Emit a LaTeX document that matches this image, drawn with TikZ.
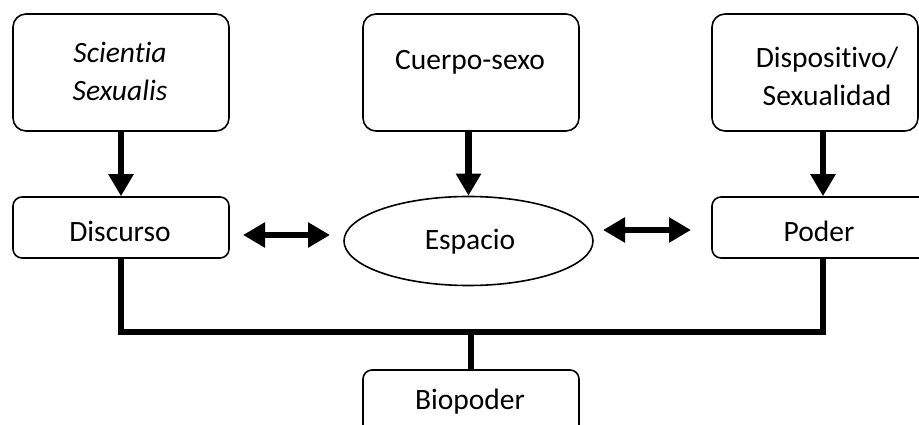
\documentclass[tikz,border=0pt]{standalone}
\usepackage{fontspec}
\setmainfont{Carlito}[Ligatures={NoCommon},RawFeature={-liga;-clig}]
\usetikzlibrary{arrows.meta,shapes.geometric,calc}
\begin{document}
\begin{tikzpicture}[x=1pt,y=-1pt,
  bigbox/.style={draw,line width=1.6pt,rounded corners=13pt,inner sep=0pt,minimum height=117pt},
  smallbox/.style={draw,line width=1.6pt,rounded corners=9pt,inner sep=0pt,minimum height=61pt},
  lbl/.style={font=\fontsize{29.5}{38}\selectfont,align=center,inner sep=0pt},
  conn/.style={line width=6.5pt},
  arr/.style={line width=6.5pt,-{Triangle[length=22pt,width=24pt]}},
  darr/.style={line width=6.5pt,{Triangle[length=22pt,width=24pt]}-{Triangle[length=22pt,width=24pt]}}]
\clip (0,0) rectangle (919,425);
\fill[white] (0,0) rectangle (919,425);
% top boxes
\node[bigbox,minimum width=216pt] (sci) at (121,72.5) {};
\node[lbl] (scit) at (120,71.5) {\itshape Scientia\\\itshape Sexualis};
\node[bigbox,minimum width=216pt] (cs) at (471,72.5) {};
\node[lbl] (cst) at (470,62) {Cuerpo-sexo};
\node[bigbox,minimum width=206pt] (dsp) at (815,72.5) {};
\node[lbl] (dspt) at (827,76) {Dispositivo/\\Sexualidad};
% middle row
\node[smallbox,minimum width=216pt] (dsc) at (121,227.5) {};
\node[lbl] (dsct) at (120,231) {Discurso};
\node[draw,ellipse,line width=1.6pt,minimum width=249pt,minimum height=89pt,inner sep=0pt] (esp) at (468.5,241) {};
\node[lbl] (espt) at (470,242) {Espacio};
\node[smallbox,minimum width=222pt] (pod) at (823,227.5) {};
\node[lbl] (podt) at (819,231) {Poder};
% bottom
\node[smallbox,minimum width=216pt,minimum height=66pt] (bio) at (471,403) {};
\node[lbl] (biot) at (470,402) {Biopoder};
% vertical arrows
\draw[arr] (sci.south -| dsc.north) -- (dsc.north);
\draw[arr] (cs.south -| esp.north) -- (esp.north);
\draw[arr] (dsp.south -| pod.north) -- (pod.north);
% double arrows
\coordinate (l1) at (243,235);
\coordinate (l2) at (330,235);
\coordinate (r1) at (603,230);
\coordinate (r2) at (691,230);
\draw[darr] (l1) -- (l2);
\draw[darr] (r1) -- (r2);
% bottom bracket
\coordinate (hb) at (471,332);
\draw[conn] (dsc.south) |- (hb) -| (pod.south);
\draw[conn] (hb) -- (bio.north);
\end{tikzpicture}
\end{document}
